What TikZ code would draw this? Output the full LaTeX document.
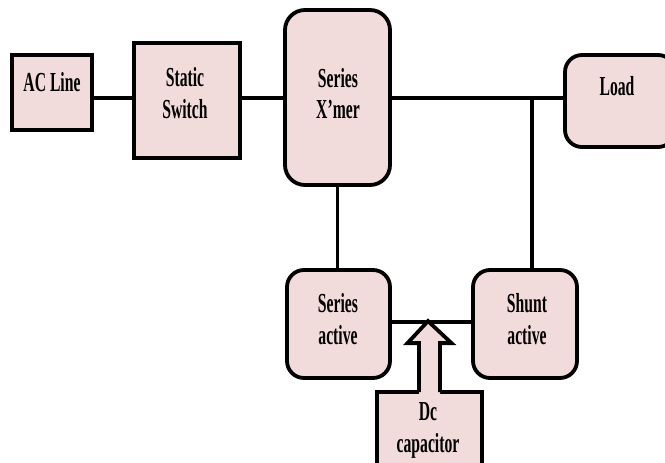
\documentclass[tikz,border=0pt]{standalone}
\usepackage{fontspec}
\setmainfont{Liberation Serif}[FakeStretch=0.57]
\definecolor{blockfill}{HTML}{F2DCDB}
\newcommand\twoline[2]{\begin{tabular}[t]{@{}c@{}}#1\\#2\end{tabular}}
\begin{document}
\begin{tikzpicture}[x=1pt,y=-1pt,
  blk/.style={draw=black, fill=blockfill, line width=3.8pt, inner sep=0pt},
  rblk/.style={blk, rounded corners=17pt},
  lbl/.style={anchor=base, font=\fontsize{27.5}{32}\selectfont\bfseries, inner sep=0pt},
  wire/.style={line width=3.8pt}]
\useasboundingbox (0,0) rectangle (665,463);
\clip (0,0) rectangle (665,463);

% blocks
\node[blk,  minimum width=80pt,  minimum height=75pt]  (ac)     at (52,92.5)   {};
\node[blk,  minimum width=106pt, minimum height=115pt] (static) at (187,100.5) {};
\node[rblk, minimum width=105pt, minimum height=175pt, rounded corners=20pt] (xmer) at (337.5,97.5) {};
\node[rblk, minimum width=110pt, minimum height=92pt]  (load)   at (620,101)   {};
\node[rblk, minimum width=103pt, minimum height=108pt] (sera)   at (338.5,324) {};
\node[rblk, minimum width=104pt, minimum height=108pt] (shunt)  at (525,324)   {};
\node[blk,  minimum width=105pt, minimum height=100pt] (cap)    at (429.5,442) {};

% connectors
\coordinate (bus) at (0,98);
\coordinate (tap) at (532,98);
\coordinate (dcbus) at (0,322);
\draw[wire] (ac.east |- bus) -- (static.west |- bus);
\draw[wire] (static.east |- bus) -- (xmer.west |- bus);
\draw[wire] (xmer.east |- bus) -- (load.west |- bus);
\draw[wire] (tap) -- (tap |- shunt.north);
\draw[wire] (xmer.south) -- (xmer.south |- sera.north);
\draw[wire] (sera.east |- dcbus) -- (shunt.west |- dcbus);

% block arrow from the capacitor up to the dc link
\begin{scope}[shift={(cap.north)}]
  \fill[blockfill] (-10.5,6) -- (-10.5,-47) -- (-22,-47) -- (-1.5,-69) -- (22,-47)
    -- (10.5,-47) -- (10.5,6) -- cycle;
  \draw[line width=3.8pt, line join=miter] (-10.5,2) -- (-10.5,-47) -- (-22,-47)
    -- (-1.5,-69) -- (22,-47) -- (10.5,-47) -- (10.5,2);
\end{scope}

% labels
\node[lbl] (actext)     at (52,91)  {AC Line};
\node[lbl] (statictext) at (185,86) {\twoline{Static}{Switch}};
\node[lbl] (xmertext)   at (338,87) {\twoline{Series}{X’mer}};
\node[lbl] (loadtext)   at (617,95) {Load};
\node[lbl] (seratext)   at (338,312) {\twoline{Series}{active}};
\node[lbl] (shunttext)  at (527,312) {\twoline{Shunt}{active}};
\node[lbl] (captext)    at (428,420) {\twoline{Dc}{capacitor}};
\end{tikzpicture}
\end{document}
